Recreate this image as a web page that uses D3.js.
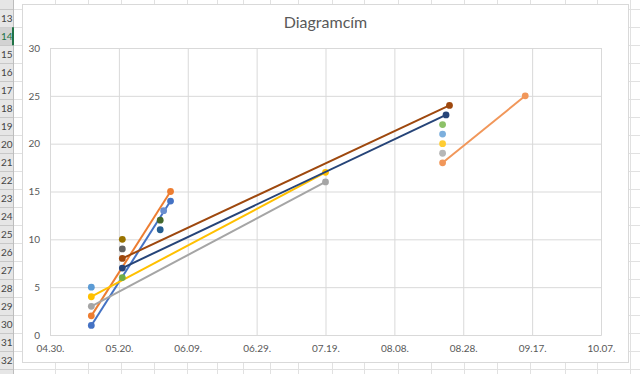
<!DOCTYPE html>
<html><head><meta charset="utf-8">
<script src="https://cdn.jsdelivr.net/npm/d3@7"></script>
<style>
html,body{margin:0;padding:0;background:#fff;}
svg{display:block;font-family:Lato,"Open Sans",sans-serif;}
</style></head>
<body>
<svg id="c" width="640" height="374"></svg>
<script>
// ---- data ----
const chartTitle = "Diagramcím";
const yTicks = [0, 5, 10, 15, 20, 25, 30];
const xTickLabels = ["04.30.", "05.20.", "06.09.", "06.29.", "07.19.", "08.08.", "08.28.", "09.17.", "10.07."];
const seriesColors = ["#4472C4","#ED7D31","#A5A5A5","#FFC000","#5B9BD5","#70AD47","#264478","#9E480E","#636363","#997300","#255E91","#43682B","#698ED0","#F1975A","#B7B7B7","#FFCD33","#7CAFDD","#8CC168"];
const seriesDates = [
  ["2023-05-12","2023-06-04"],
  ["2023-05-12","2023-06-04"],
  ["2023-05-12","2023-07-19"],
  ["2023-05-12","2023-07-19"],
  ["2023-05-12"],
  ["2023-05-21"],
  ["2023-05-21","2023-08-23"],
  ["2023-05-21","2023-08-24"],
  ["2023-05-21"],
  ["2023-05-21"],
  ["2023-06-01"],
  ["2023-06-01"],
  ["2023-06-02"],
  ["2023-08-22","2023-09-15"],
  ["2023-08-22"],
  ["2023-08-22"],
  ["2023-08-22"],
  ["2023-08-22"]
];
const seriesValues = [
  [1,14],[2,15],[3,16],[4,17],[5],[6],[7,23],[8,24],[9],[10],[11],[12],[13],[18,25],[19],[20],[21],[22]
];
const rowNumbers = d3.range(13, 33);
const sheetColumns = [55, 88, 121, 154, 187, 217, 243, 270, 298, 332, 364, 398, 431, 464, 497, 530, 565, 597, 630];

// ---- drawing ----
(function () {
const svg = d3.select("#c");
const W = 640, H = 374;
const parse = d3.timeParse("%Y-%m-%d");

// spreadsheet background
const rowY0 = 9.3, rowH = 18;
const sheet = svg.append("g");
for (let i = 0; i <= rowNumbers.length; i++) {
  const yb = Math.round(rowY0 + i * rowH) + 0.5;
  sheet.append("line").attr("x1", 0).attr("x2", W).attr("y1", yb).attr("y2", yb).attr("stroke", "#E1E1E1");
}
sheetColumns.forEach(cx => {
  sheet.append("line").attr("x1", cx + 0.5).attr("x2", cx + 0.5).attr("y1", 0).attr("y2", H).attr("stroke", "#E1E1E1");
});
// row header
sheet.append("rect").attr("x", 0).attr("y", 0).attr("width", 13.5).attr("height", H).attr("fill", "#E6E6E6");
sheet.append("line").attr("x1", 0).attr("x2", 13.5).attr("y1", Math.round(rowY0) + 0.5).attr("y2", Math.round(rowY0) + 0.5).attr("stroke", "#C8C8C8");
rowNumbers.forEach((r, i) => {
  const yc = rowY0 + (i + 0.5) * rowH;
  if (r === 14) {
    sheet.append("rect").attr("x", 0).attr("y", yc - rowH / 2).attr("width", 13.5).attr("height", rowH).attr("fill", "#D2D2D2");
  }
  const yb = Math.round(yc + rowH / 2) + 0.5;
  sheet.append("line").attr("x1", 0).attr("x2", 13.5).attr("y1", yb).attr("y2", yb).attr("stroke", "#C8C8C8");
  sheet.append("text").attr("x", 12.5).attr("y", yc).attr("dy", "0.36em").attr("text-anchor", "end")
    .attr("font-size", 10).attr("fill", r === 14 ? "#217346" : "#444").text(r);
});
sheet.append("line").attr("x1", 13.5).attr("x2", 13.5).attr("y1", 0).attr("y2", H).attr("stroke", "#BDBDBD");
sheet.append("line").attr("x1", 13).attr("x2", 13).attr("y1", rowY0 + 1.5 * rowH - 9).attr("y2", rowY0 + 1.5 * rowH + 9)
  .attr("stroke", "#217346").attr("stroke-width", 2);

// chart area
svg.append("rect").attr("x", 22.5).attr("y", 4.5).attr("width", 606).attr("height", 358)
  .attr("fill", "#fff").attr("stroke", "#D9D9D9");

svg.append("text").attr("x", 325.5).attr("y", 28).attr("text-anchor", "middle")
  .attr("font-size", 16).attr("fill", "#595959").text(chartTitle);

const pLeft = 50, pRight = 601, pTop = 48, pBottom = 335;
const x = d3.scaleTime().domain([parse("2023-04-30"), parse("2023-10-07")]).range([pLeft, pRight]);
const y = d3.scaleLinear().domain([0, 30]).range([pBottom, pTop]);
const xTickDates = xTickLabels.map((l, i) => d3.timeDay.offset(parse("2023-04-30"), i * 20));

// gridlines
const gy = svg.append("g").attr("transform", `translate(${pLeft},0)`)
  .call(d3.axisLeft(y).tickValues(yTicks).tickSize(-(pRight - pLeft)).tickFormat(""));
gy.select(".domain").remove();
gy.selectAll("line").attr("stroke", "#D9D9D9");

const gx = svg.append("g").attr("transform", `translate(0,${pBottom})`)
  .call(d3.axisBottom(x).tickValues(xTickDates).tickSize(-(pBottom - pTop)).tickFormat((d, i) => xTickLabels[i]).tickPadding(10));
gx.select(".domain").attr("stroke", "#D9D9D9");
gx.selectAll("line").attr("stroke", "#D9D9D9");
gx.selectAll("text").attr("fill", "#595959").attr("font-size", 10).attr("font-family", "Lato");

const ay = svg.append("g").attr("transform", `translate(${pLeft},0)`)
  .call(d3.axisLeft(y).tickValues(yTicks).tickSize(0).tickPadding(10));
ay.select(".domain").remove();
ay.selectAll("text").attr("fill", "#595959").attr("font-size", 10).attr("font-family", "Lato");

// series
const line = d3.line().x(d => x(d[0])).y(d => y(d[1]));
seriesColors.forEach((col, i) => {
  const pts = seriesDates[i].map((d, j) => [parse(d), seriesValues[i][j]]);
  const g = svg.append("g");
  if (pts.length > 1) {
    g.append("path").attr("d", line(pts)).attr("fill", "none").attr("stroke", col).attr("stroke-width", 2);
  }
  g.selectAll("circle").data(pts).join("circle")
    .attr("cx", d => x(d[0])).attr("cy", d => y(d[1])).attr("r", 3.4).attr("fill", col);
});
})();
</script>
</body></html>
